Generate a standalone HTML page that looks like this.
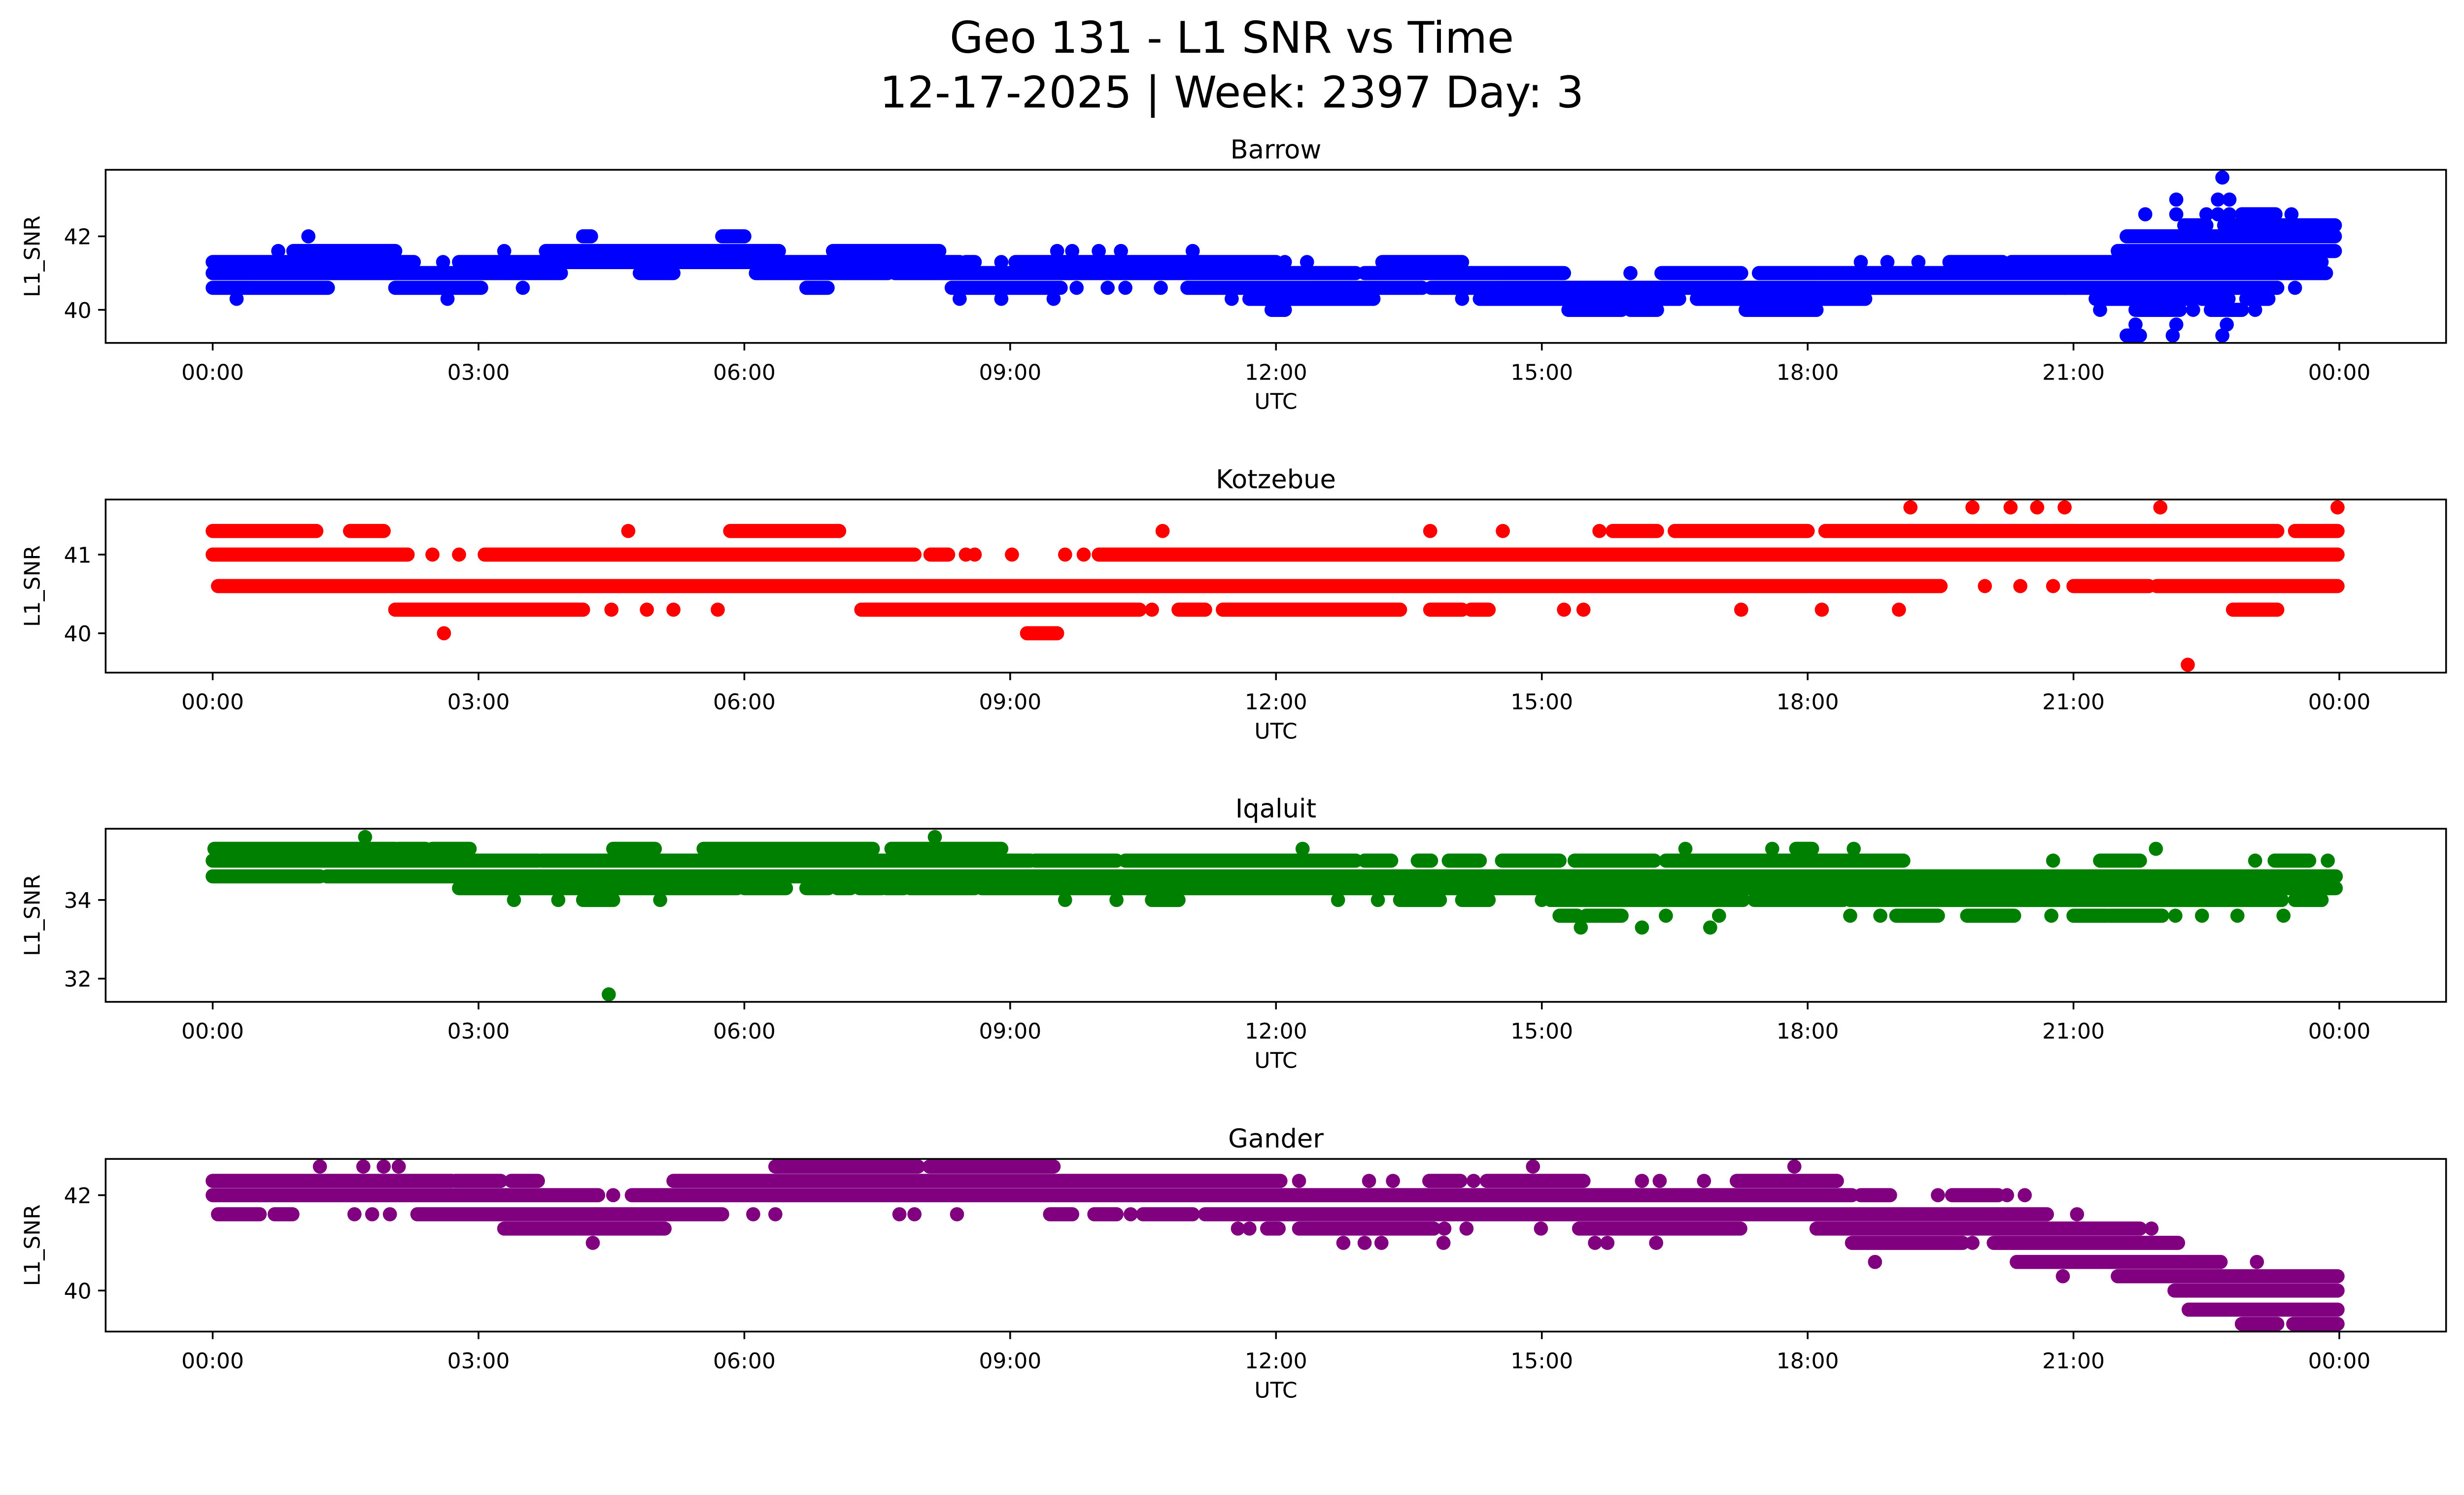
<!DOCTYPE html>
<html>
<head>
<meta charset="utf-8">
<style>
html,body{margin:0;padding:0;background:#fff;overflow:hidden;}
svg{display:block;width:100vw;height:calc(100vw * 3033 / 5225);}
text{font-family:"DejaVu Sans","Liberation Sans",sans-serif;fill:#000;}
</style>
</head>
<body>
<svg id="fig" xmlns="http://www.w3.org/2000/svg" viewBox="0 0 5225 3033" preserveAspectRatio="xMidYMid meet">
<rect x="0" y="0" width="5225" height="3033" fill="#fff"/>
<text x="2612" y="112" font-size="92" text-anchor="middle">Geo 131 - L1 SNR vs Time</text>
<text x="2612" y="228" font-size="92" text-anchor="middle">12-17-2025 | Week: 2397 Day: 3</text>
</svg>
<script>
// ---- Data: SNR runs (start hour, end hour, SNR level); single samples have start == end ----
const xTickHours = [0, 3, 6, 9, 12, 15, 18, 21, 24];
const xTickLabels = ["00:00","03:00","06:00","09:00","12:00","15:00","18:00","21:00","00:00"];

const barrowStart = [0,4.82,6.13,7.7,13.0,16.0,16.35,17.45,
  0,2.6,2.78,8.5,8.9,9.06,12.1,12.35,13.2,18.6,18.9,19.25,19.6,20.3,
  0.74,0.91,3.29,3.76,7.0,9.53,9.7,10.0,10.25,11.06,21.5,
  1.08,4.18,5.75,21.6,
  22.25,22.7,
  21.81,22.16,22.5,22.63,22.76,22.9,23.46,
  22.16,22.63,22.76,
  22.68,
  0,2.06,3.5,6.7,8.34,9.75,10.1,10.3,10.7,11.0,13.75,20.9,23.5,
  0.27,2.65,8.43,8.9,9.49,11.5,11.7,14.1,14.3,16.75,21.25,22.45,22.95,
  11.95,15.3,16.0,17.3,21.3,21.7,22.35,22.55,23.05,
  21.7,22.16,22.73,
  21.6,22.12,22.68];
const barrowEnd = [3.93,5.2,7.62,12.9,15.25,16.0,17.25,23.85,
  2.27,2.6,8.43,8.6,8.9,12.0,12.1,12.35,14.1,18.6,18.9,19.25,20.2,23.8,
  0.74,2.06,3.29,6.39,8.2,9.53,9.7,10.0,10.25,11.06,23.95,
  1.08,4.27,6.0,23.95,
  22.5,23.95,
  21.81,22.16,22.5,22.63,22.76,23.28,23.46,
  22.16,22.63,22.76,
  22.68,
  1.3,3.03,3.5,6.94,9.57,9.75,10.1,10.3,10.7,13.65,20.9,23.3,23.5,
  0.27,2.65,8.43,8.9,9.49,11.5,13.1,14.1,16.55,18.65,22.35,22.75,23.2,
  12.1,15.9,16.3,18.1,21.3,22.2,22.35,22.9,23.05,
  21.7,22.16,22.73,
  21.75,22.12,22.68];
const barrowLevel = [41,41,41,41,41,41,41,41,
  41.3,41.3,41.3,41.3,41.3,41.3,41.3,41.3,41.3,41.3,41.3,41.3,41.3,41.3,
  41.6,41.6,41.6,41.6,41.6,41.6,41.6,41.6,41.6,41.6,41.6,
  42,42,42,42,
  42.3,42.3,
  42.6,42.6,42.6,42.6,42.6,42.6,42.6,
  43,43,43,
  43.6,
  40.6,40.6,40.6,40.6,40.6,40.6,40.6,40.6,40.6,40.6,40.6,40.6,40.6,
  40.3,40.3,40.3,40.3,40.3,40.3,40.3,40.3,40.3,40.3,40.3,40.3,40.3,
  40,40,40,40,40,40,40,40,40,
  39.6,39.6,39.6,
  39.3,39.3,39.3];

const kotzStart = [19.16,19.86,20.29,20.59,20.9,21.98,23.98,
  0,1.55,4.69,5.84,10.72,13.74,14.56,15.65,15.8,16.5,18.2,23.5,
  0,2.48,2.78,3.07,8.1,8.5,8.6,9.02,9.62,9.83,10.0,
  0.06,20.0,20.4,20.77,21.0,21.94,
  2.06,4.5,4.9,5.2,5.7,7.32,10.6,10.9,11.4,13.74,14.2,15.25,15.47,17.25,18.16,19.03,22.8,
  2.61,9.19,
  22.29];
const kotzEnd = [19.16,19.86,20.29,20.59,20.9,21.98,23.98,
  1.17,1.93,4.69,7.07,10.72,13.74,14.56,15.65,16.3,18.0,23.3,23.98,
  2.2,2.48,2.78,7.92,8.3,8.5,8.6,9.02,9.62,9.83,23.98,
  19.5,20.0,20.4,20.77,21.85,23.98,
  4.18,4.5,4.9,5.2,5.7,10.46,10.6,11.2,13.4,14.1,14.4,15.25,15.47,17.25,18.16,19.03,23.3,
  2.61,9.53,
  22.29];
const kotzLevel = [41.6,41.6,41.6,41.6,41.6,41.6,41.6,
  41.3,41.3,41.3,41.3,41.3,41.3,41.3,41.3,41.3,41.3,41.3,41.3,
  41,41,41,41,41,41,41,41,41,41,41,
  40.6,40.6,40.6,40.6,40.6,40.6,
  40.3,40.3,40.3,40.3,40.3,40.3,40.3,40.3,40.3,40.3,40.3,40.3,40.3,40.3,40.3,40.3,40.3,
  40,40,
  39.6];

const iqalStart = [1.72,8.15,
  0.02,2.1,2.48,4.52,5.54,7.66,12.3,16.62,17.6,17.87,18.52,21.93,
  0,3.71,9.28,10.3,13.0,13.6,13.95,14.55,15.37,16.4,20.77,21.3,23.05,23.27,23.87,
  0,1.29,
  2.78,6.0,6.7,7.05,7.3,7.6,7.87,8.68,
  3.4,3.9,4.18,5.05,9.62,10.2,10.6,12.7,13.15,13.4,14.1,15.0,15.1,17.4,18.48,23.5,
  15.2,15.5,16.4,17.0,18.48,18.82,19.0,19.8,20.75,21.0,21.4,22.15,22.45,22.85,23.37,
  15.44,16.13,16.9,
  4.47];
const iqalEnd = [1.72,8.15,
  2.06,2.4,2.9,4.99,7.45,8.9,12.3,16.62,17.6,18.05,18.52,21.93,
  3.67,9.23,10.2,12.9,13.3,13.75,14.3,15.2,16.27,19.08,20.77,21.75,23.05,23.66,23.87,
  1.21,23.96,
  5.92,6.47,6.95,7.2,7.55,7.8,8.6,23.96,
  3.4,3.9,4.52,5.05,9.62,10.2,10.9,12.7,13.15,13.85,14.4,15.0,17.27,18.4,23.35,23.8,
  15.4,15.9,16.4,17.0,18.48,18.82,19.47,20.33,20.75,21.37,22.0,22.15,22.45,22.85,23.37,
  15.44,16.13,16.9,
  4.47];
const iqalLevel = [35.6,35.6,
  35.3,35.3,35.3,35.3,35.3,35.3,35.3,35.3,35.3,35.3,35.3,35.3,
  35,35,35,35,35,35,35,35,35,35,35,35,35,35,35,
  34.6,34.6,
  34.3,34.3,34.3,34.3,34.3,34.3,34.3,34.3,
  34,34,34,34,34,34,34,34,34,34,34,34,34,34,34,34,
  33.6,33.6,33.6,33.6,33.6,33.6,33.6,33.6,33.6,33.6,33.6,33.6,33.6,33.6,33.6,
  33.3,33.3,33.3,
  31.6];

const ganderStart = [1.21,1.7,1.93,2.1,6.35,8.09,14.9,17.85,
  0,2.74,3.37,5.2,12.26,13.05,13.32,13.73,14.23,14.38,16.13,16.33,16.83,17.2,
  0,4.52,4.73,18.6,19.47,19.63,20.25,20.45,
  0.06,0.7,1.6,1.8,2.0,2.31,6.1,6.35,7.75,7.92,8.4,9.45,9.95,10.36,10.5,11.2,21.04,
  3.29,11.57,11.7,11.9,12.26,13.9,14.15,14.99,15.42,18.1,21.88,
  4.29,12.76,13.0,13.19,13.89,15.6,15.74,16.29,18.5,19.86,20.1,
  18.76,20.36,23.07,
  20.88,21.5,
  22.14,
  22.3,
  22.9,23.48];
const ganderEnd = [1.21,1.7,1.93,2.1,7.96,9.49,14.9,17.85,
  2.7,3.25,3.67,12.05,12.26,13.05,13.32,14.08,14.23,15.47,16.13,16.33,16.83,18.33,
  4.35,4.52,18.5,18.93,19.47,20.15,20.25,20.45,
  0.53,0.9,1.6,1.8,2.0,5.75,6.1,6.35,7.75,7.92,8.4,9.7,10.2,10.36,11.06,20.7,21.04,
  5.1,11.57,11.7,12.03,13.78,13.9,14.15,14.99,17.24,21.75,21.88,
  4.29,12.76,13.0,13.19,13.89,15.6,15.74,16.29,19.75,19.86,22.18,
  18.76,22.66,23.07,
  20.88,23.98,
  23.98,
  23.98,
  23.3,23.98];
const ganderLevel = [42.6,42.6,42.6,42.6,42.6,42.6,42.6,42.6,
  42.3,42.3,42.3,42.3,42.3,42.3,42.3,42.3,42.3,42.3,42.3,42.3,42.3,42.3,
  42,42,42,42,42,42,42,42,
  41.6,41.6,41.6,41.6,41.6,41.6,41.6,41.6,41.6,41.6,41.6,41.6,41.6,41.6,41.6,41.6,41.6,
  41.3,41.3,41.3,41.3,41.3,41.3,41.3,41.3,41.3,41.3,41.3,
  41,41,41,41,41,41,41,41,41,41,41,
  40.6,40.6,40.6,
  40.3,40.3,
  40,
  39.6,
  39.3,39.3];

const barrowYTicks = [40, 42];
const kotzYTicks = [40, 41];
const iqalYTicks = [32, 34];
const ganderYTicks = [40, 42];

// ---- Layout ----
const NS = "http://www.w3.org/2000/svg";
const svg = document.getElementById("fig");
const AX_LEFT = 224, AX_RIGHT = 5187;
const X0 = 451, PX_PER_HOUR = 187.9;
const R = 15;
function xScale(h){ return X0 + h * PX_PER_HOUR; }

const panels = [
  {key:"barrow", title:"Barrow", color:"#0000ff", top:360, bottom:727, ymin:39.10, ymax:43.81,
   s:barrowStart, e:barrowEnd, v:barrowLevel, yt:barrowYTicks},
  {key:"kotzebue", title:"Kotzebue", color:"#ff0000", top:1059, bottom:1426, ymin:39.50, ymax:41.70,
   s:kotzStart, e:kotzEnd, v:kotzLevel, yt:kotzYTicks},
  {key:"iqaluit", title:"Iqaluit", color:"#008000", top:1757, bottom:2124, ymin:31.41, ymax:35.81,
   s:iqalStart, e:iqalEnd, v:iqalLevel, yt:iqalYTicks},
  {key:"gander", title:"Gander", color:"#800080", top:2457, bottom:2823, ymin:39.14, ymax:42.76,
   s:ganderStart, e:ganderEnd, v:ganderLevel, yt:ganderYTicks}
];

function mk(tag, attrs, parent){
  const el = document.createElementNS(NS, tag);
  for (const k in attrs) el.setAttribute(k, attrs[k]);
  (parent || svg).appendChild(el);
  return el;
}

panels.forEach(function(p){
  const g = mk("g", {});
  
  
  function yScale(v){ return p.bottom - (v - p.ymin) / (p.ymax - p.ymin) * (p.bottom - p.top); }

  const clipId = "clip-" + p.key;
  const cp = mk("clipPath", {id: clipId}, g);
  mk("rect", {x: AX_LEFT, y: p.top, width: AX_RIGHT - AX_LEFT, height: p.bottom - p.top}, cp);

  const marks = mk("g", {"clip-path": "url(#" + clipId + ")", fill: p.color}, g);
  
  
  for (let i = 0; i < p.s.length; i++){
    const xa = xScale(p.s[i]), xb = xScale(p.e[i]), yc = yScale(p.v[i]);
    const r = mk("rect", {x: xa - R, y: yc - R, width: (xb - xa) + 2*R, height: 2*R, rx: R, ry: R}, marks);
    
    
  }

  const frame = mk("rect", {x: AX_LEFT, y: p.top, width: AX_RIGHT - AX_LEFT, height: p.bottom - p.top, fill: "none", stroke: "#000", "stroke-width": 3.7}, g);
  
  

  for (let i = 0; i < xTickHours.length; i++){
    const x = xScale(xTickHours[i]);
    const t = mk("line", {x1: x, x2: x, y1: p.bottom, y2: p.bottom + 16, stroke: "#000", "stroke-width": 3.7}, g);
    
    
    const lb = mk("text", {x: x, y: p.bottom + 78, "font-size": 46, "text-anchor": "middle"}, g);
    lb.textContent = xTickLabels[i];
    
    
  }
  for (let i = 0; i < p.yt.length; i++){
    const y = yScale(p.yt[i]);
    const t = mk("line", {x1: AX_LEFT - 16, x2: AX_LEFT, y1: y, y2: y, stroke: "#000", "stroke-width": 3.7}, g);
    
    
    const lb = mk("text", {x: AX_LEFT - 30, y: y + 17, "font-size": 46, "text-anchor": "end"}, g);
    lb.textContent = String(p.yt[i]);
    
    
  }

  const ttl = mk("text", {x: (AX_LEFT + AX_RIGHT)/2, y: p.top - 24, "font-size": 55, "text-anchor": "middle"}, g);
  ttl.textContent = p.title;
  
  

  const xl = mk("text", {x: (AX_LEFT + AX_RIGHT)/2, y: p.bottom + 140, "font-size": 46, "text-anchor": "middle"}, g);
  xl.textContent = "UTC";
  
  

  const yc = (p.top + p.bottom)/2;
  const yl = mk("text", {x: 0, y: 0, "font-size": 46, "text-anchor": "middle", transform: "translate(84," + yc + ") rotate(-90)"}, g);
  yl.textContent = "L1_SNR";
  
  
});
</script>
</body>
</html>
